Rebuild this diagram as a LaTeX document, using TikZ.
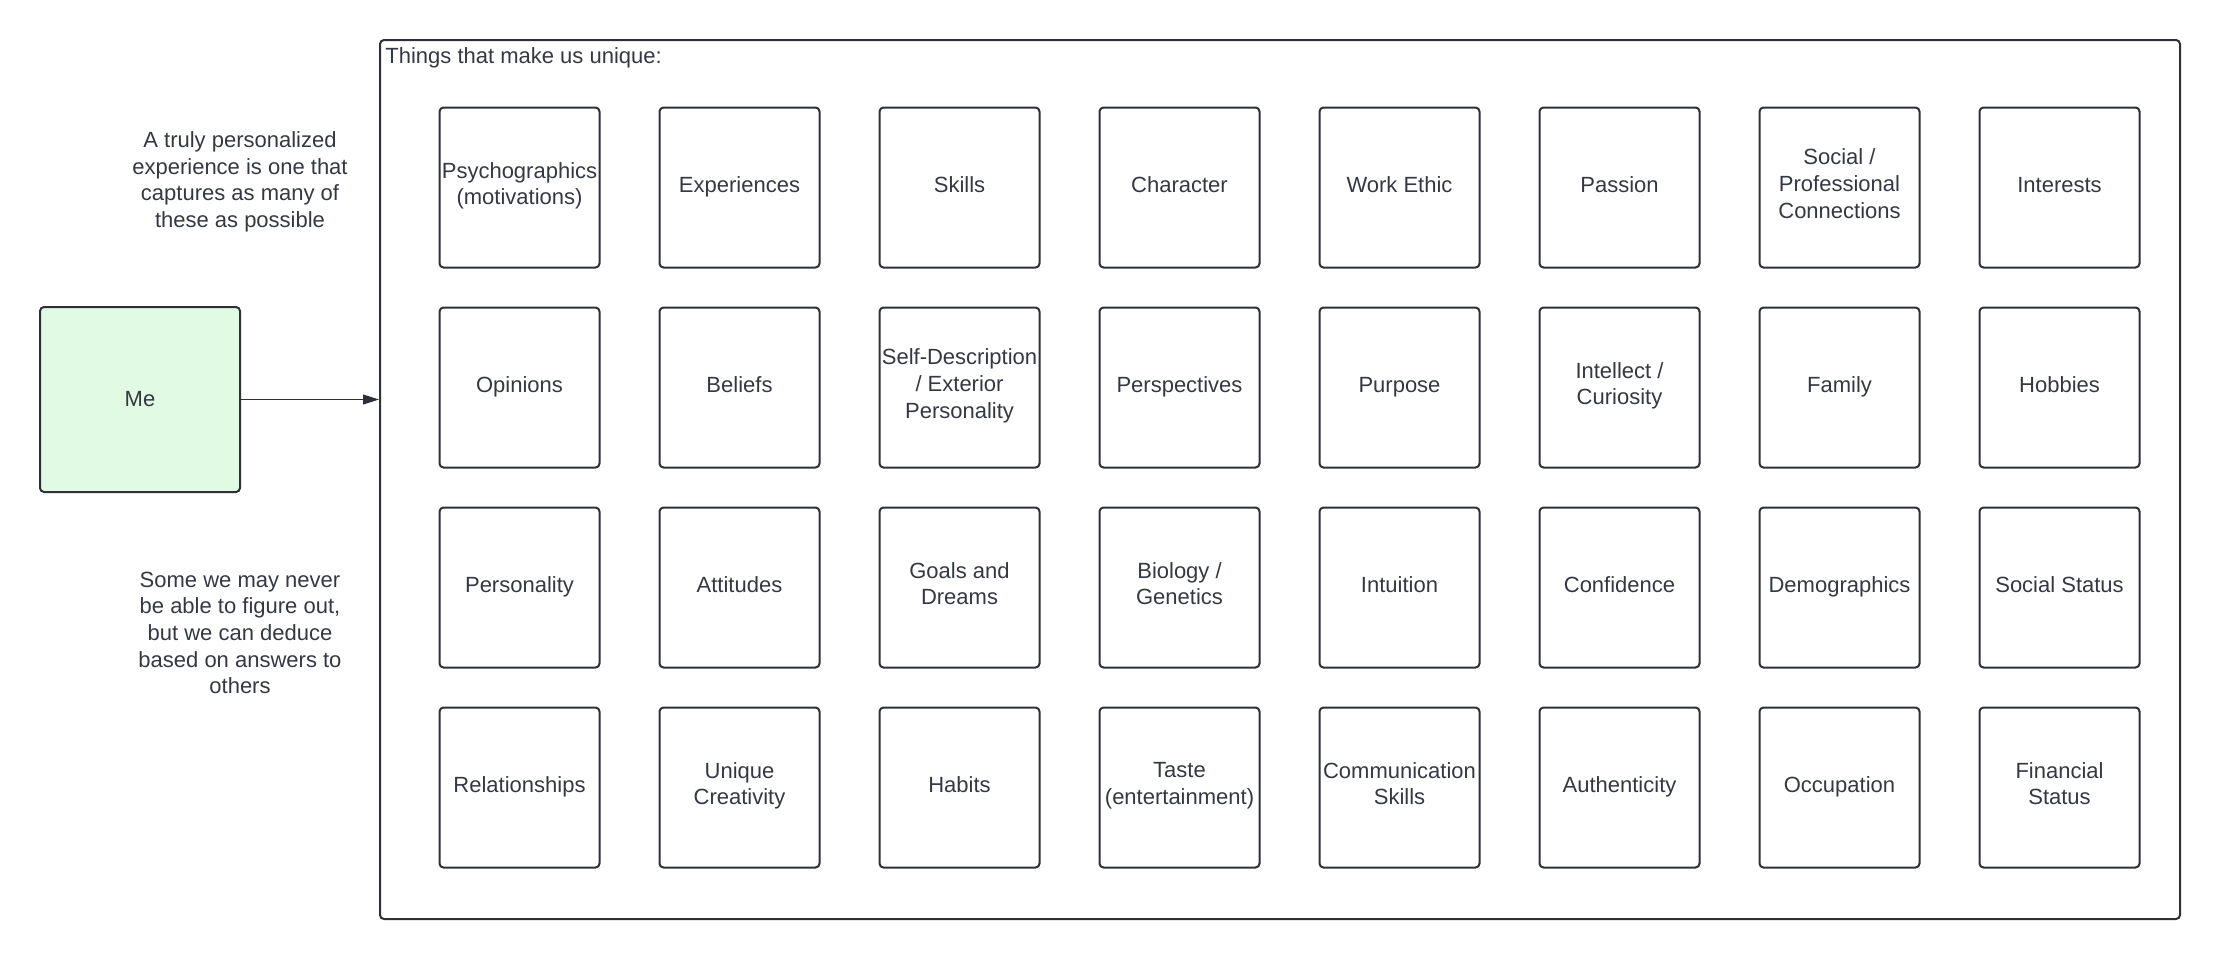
\documentclass[tikz,border=0pt]{standalone}
\usepackage{fontspec}
\setmainfont{Liberation Sans}
\usetikzlibrary{positioning,arrows.meta}
\definecolor{inkcolor}{RGB}{51,56,66}
\definecolor{linecolor}{RGB}{45,48,56}
\definecolor{mecolor}{RGB}{224,250,227}
\tikzset{
    base text/.style={text=inkcolor, font=\fontsize{11}{13.3}\selectfont},
    trait/.style={rectangle, rounded corners=2pt, draw=linecolor, line width=1pt, minimum width=80pt, minimum height=80pt, inner sep=1pt, align=center, base text, execute at begin node=\strut, execute at end node=\strut},
    me box/.style={rectangle, rounded corners=2pt, draw=linecolor, line width=1pt, fill=mecolor, minimum width=100pt, minimum height=92.5pt, base text},
    container/.style={rectangle, rounded corners=2pt, draw=linecolor, line width=1pt, minimum width=900pt, minimum height=439.5pt},
    note/.style={align=center, inner sep=0pt, base text},
    link arrow/.style={-{Triangle[length=8pt,width=5pt]}, linecolor, line width=0.5pt}
}
\begin{document}
\begin{tikzpicture}[x=0.5pt, y=-0.5pt]
\useasboundingbox (0,0) rectangle (2220,960);

\node[container] (unique) at (1280,479.5) {};
\node[anchor=base west, inner sep=0pt, base text] (title) at (385,63) {Things that make us unique:};

% row 1
\node[trait] (psycho) at (519.5,187.5) {Psychographics\\(motivations)};
\node[trait, right=29pt of psycho] (experiences) {Experiences};
\node[trait, right=29pt of experiences] (skills) {Skills};
\node[trait, right=29pt of skills] (character) {Character};
\node[trait, right=29pt of character] (workethic) {Work Ethic};
\node[trait, right=29pt of workethic] (passion) {Passion};
\node[trait, right=29pt of passion] (connections) {Social /\\Professional\\Connections};
\node[trait, right=29pt of connections] (interests) {Interests};

% row 2
\node[trait, below=19pt of psycho] (opinions) {Opinions};
\node[trait, right=29pt of opinions] (beliefs) {Beliefs};
\node[trait, right=29pt of beliefs] (selfdesc) {Self-Description\\/ Exterior\\Personality};
\node[trait, right=29pt of selfdesc] (perspectives) {Perspectives};
\node[trait, right=29pt of perspectives] (purpose) {Purpose};
\node[trait, right=29pt of purpose] (intellect) {Intellect /\\Curiosity};
\node[trait, right=29pt of intellect] (family) {Family};
\node[trait, right=29pt of family] (hobbies) {Hobbies};

% row 3
\node[trait, below=19pt of opinions] (personality) {Personality};
\node[trait, right=29pt of personality] (attitudes) {Attitudes};
\node[trait, right=29pt of attitudes] (goals) {Goals and\\Dreams};
\node[trait, right=29pt of goals] (biology) {Biology /\\Genetics};
\node[trait, right=29pt of biology] (intuition) {Intuition};
\node[trait, right=29pt of intuition] (confidence) {Confidence};
\node[trait, right=29pt of confidence] (demographics) {Demographics};
\node[trait, right=29pt of demographics] (status) {Social Status};

% row 4
\node[trait, below=19pt of personality] (relationships) {Relationships};
\node[trait, right=29pt of relationships] (creativity) {Unique\\Creativity};
\node[trait, right=29pt of creativity] (habits) {Habits};
\node[trait, right=29pt of habits] (taste) {Taste\\(entertainment)};
\node[trait, right=29pt of taste] (communication) {Communication\\Skills};
\node[trait, right=29pt of communication] (authenticity) {Authenticity};
\node[trait, right=29pt of authenticity] (occupation) {Occupation};
\node[trait, right=29pt of occupation] (financial) {Financial\\Status};

% left side
\node[me box] (me) at (140,399.5) {Me};
\node[note] (aim) at (240,182) {A truly personalized\\experience is one that\\captures as many of\\these as possible};
\node[note] (deduce) at (240,633) {Some we may never\\be able to figure out,\\but we can deduce\\based on answers to\\others};

\draw[link arrow] (me.east) -- (me.east -| unique.west);
\end{tikzpicture}
\end{document}
